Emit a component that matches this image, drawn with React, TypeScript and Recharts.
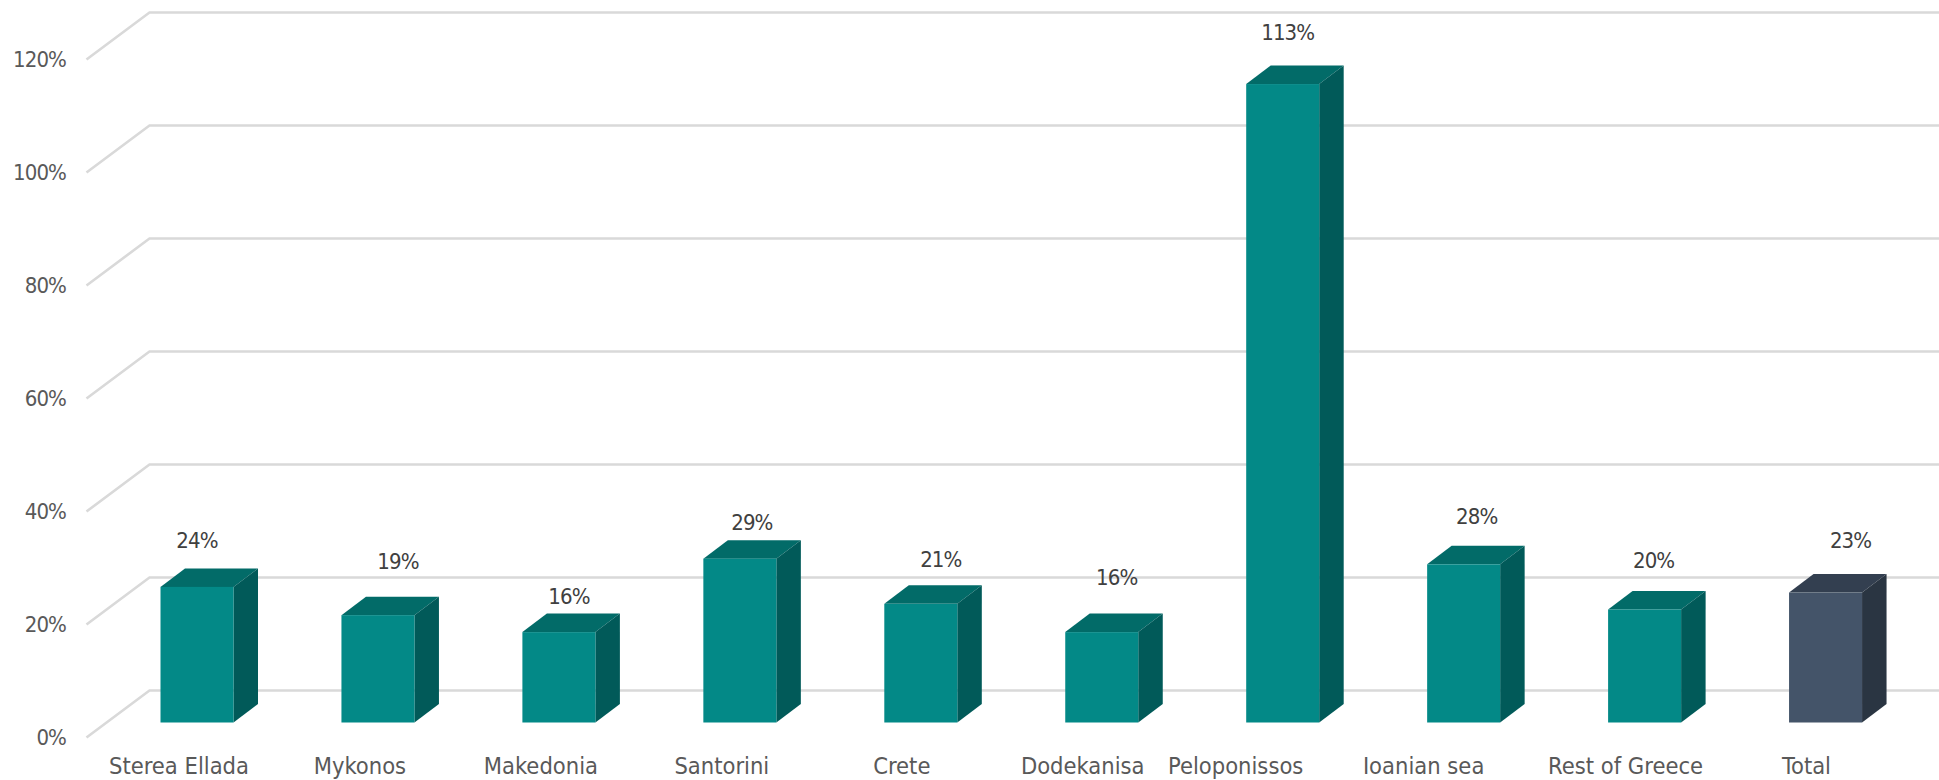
import React from "react";
import { BarChart, Bar, XAxis, YAxis, CartesianGrid, LabelList } from "recharts";

const regions = [
  "Sterea Ellada",
  "Mykonos",
  "Makedonia",
  "Santorini",
  "Crete",
  "Dodekanisa",
  "Peloponissos",
  "Ioanian sea",
  "Rest of Greece",
  "Total",
];
const growth = [24, 19, 16, 29, 21, 16, 113, 28, 20, 23];
const yTicks = [0, 20, 40, 60, 80, 100, 120];

const rows = regions.map((name, i) => ({ name, growth: growth[i] }));

// x/y shift of each value label from the centre of its bar
const labelShift = [
  [0, -46], [20, -53], [10, -35], [12, -36], [20, -44],
  [15, -54], [5, -51], [13, -47], [9, -49], [25, -52],
];
// category labels sit left of their bars, two of them further than the rest
const tickShift = [-18, -18, -18, -18, -19, -19, -47, -40, -19, -19];

const FONT = "'DejaVu Sans Condensed', 'DejaVu Sans', sans-serif";
const DEPTH_X = 24.5;
const DEPTH_Y = 18.5;
const TEAL = { front: "#038987", top: "#026B68", side: "#015A59" };
const SLATE = { front: "#445469", top: "#333F50", side: "#2A3542" };

// fake 3D column: front face plus top and side faces pushed back by the depth offset
const Box = (props: any) => {
  const { x, y, width, height, payload } = props;
  const c = payload.name === "Total" ? SLATE : TEAL;
  const r = x + width;
  const b = y + height;
  return (
    <g>
      <polygon
        points={`${x},${y} ${x + DEPTH_X},${y - DEPTH_Y} ${r + DEPTH_X},${y - DEPTH_Y} ${r},${y}`}
        fill={c.top}
      />
      <polygon
        points={`${r},${y} ${r + DEPTH_X},${y - DEPTH_Y} ${r + DEPTH_X},${b - DEPTH_Y} ${r},${b}`}
        fill={c.side}
      />
      <rect x={x} y={y} width={width} height={height} fill={c.front} />
    </g>
  );
};

// gridline with the angled floor segment at its left end
const GridLine = (props: any) => {
  const { x1, x2, y1 } = props;
  return (
    <polyline
      points={`${x1 - 20},${y1 + 15} ${x1 + 43},${y1 - 32} ${x2 + 23},${y1 - 32}`}
      fill="none"
      stroke="#D9D9D9"
      strokeWidth={2.6}
    />
  );
};

const ValueTick = ({ y, payload }: any) => (
  <text x={66} y={y + 22.5} textAnchor="end" fontFamily={FONT} fontSize={22} letterSpacing={-0.9} fill="#595959">
    {payload.value}%
  </text>
);

const RegionTick = ({ x, y, payload, index }: any) => (
  <text x={x + tickShift[index]} y={y + 45.5} textAnchor="middle" fontFamily={FONT} fontSize={23.5} fill="#595959">
    {payload.value}
  </text>
);

const GrowthLabel = ({ x, y, width, value, index }: any) => (
  <text
    x={x + width / 2 + labelShift[index][0]}
    y={y + labelShift[index][1] + 7}
    textAnchor="middle"
    fontFamily={FONT}
    fontSize={22}
    letterSpacing={-0.9}
    fill="#404040"
  >
    {value}%
  </text>
);

export default function App() {
  return (
    <div style={{ position: "absolute", left: 0, top: 0, width: 1939, height: 780 }}>
      <BarChart
        width={1939}
        height={780}
        data={rows}
        margin={{ top: 44.5, right: 23, bottom: 0, left: 0 }}
      >
        <CartesianGrid vertical={false} horizontal={(p: any) => <GridLine key={p.index} {...p} />} />
        <XAxis dataKey="name" height={57.5} axisLine={false} tickLine={false} tickMargin={0} interval={0} tick={<RegionTick />} />
        <YAxis width={106.5} domain={[0, 120]} ticks={yTicks} axisLine={false} tickLine={false} tick={<ValueTick />} />
        <Bar dataKey="growth" barSize={73} shape={<Box />} isAnimationActive={false}>
          <LabelList dataKey="growth" content={<GrowthLabel />} />
        </Bar>
      </BarChart>
    </div>
  );
}
